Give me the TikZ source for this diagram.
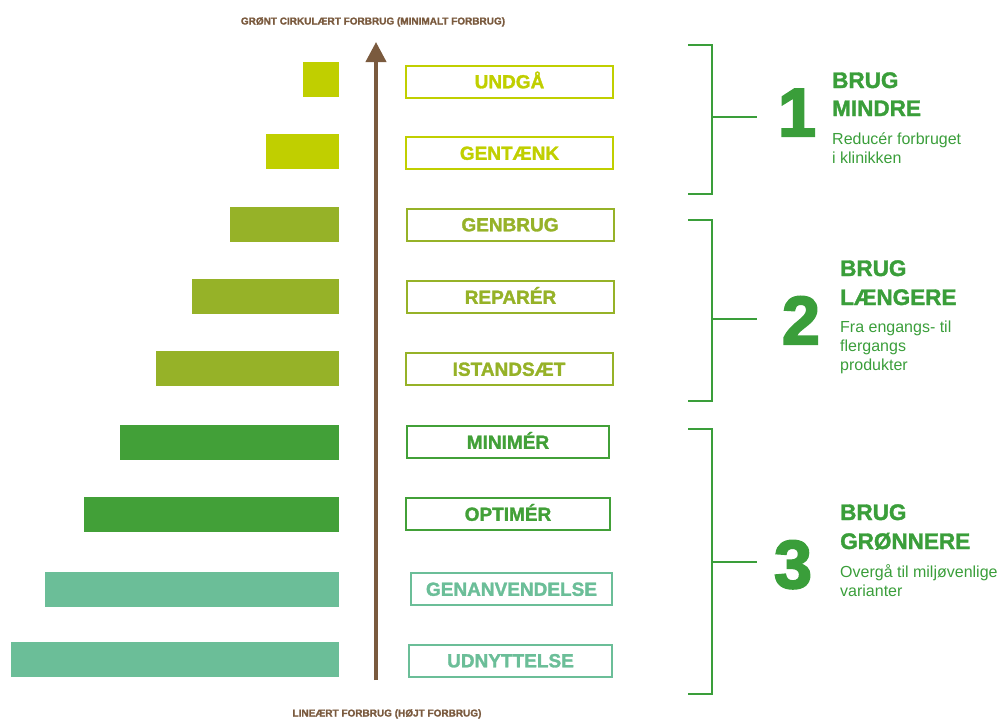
\documentclass[tikz,border=0pt]{standalone}
\usepackage{fontspec}
\setmainfont{Liberation Sans}
\newfontfamily\heavyfont{Liberation Sans Bold}[FakeBold=1.6]
\newfontfamily\numfont{Liberation Sans Bold}[FakeBold=3]
\usetikzlibrary{arrows.meta}
\definecolor{cLime}{RGB}{192,207,0}
\definecolor{cOlive}{RGB}{150,178,40}
\definecolor{cGreen}{RGB}{66,160,56}
\definecolor{cTeal}{RGB}{107,190,152}
\definecolor{cText}{RGB}{58,158,58}
\definecolor{cBrown}{RGB}{122,90,62}
\tikzset{
  bar/.style={rectangle, inner sep=0pt, outer sep=0pt, anchor=east, minimum height=35},
  lbl/.style={rectangle, draw=#1, text=#1, line width=2pt, inner sep=0pt,
    minimum width=207, minimum height=32, text height=13.6pt, text depth=0pt,
    font=\heavyfont\fontsize{19}{19}\selectfont},
  brk/.style={draw=cText, line width=1.3pt},
  bignum/.style={anchor=base, text=cText, inner sep=0pt, font=\numfont\fontsize{68}{68}\selectfont},
  head/.style={anchor=base west, text=cText, inner sep=0pt, font=\heavyfont\fontsize{22.5}{22.5}\selectfont},
  sub/.style={anchor=base west, text=cText, inner sep=0pt, font=\fontsize{16}{16}\selectfont},
  axlbl/.style={anchor=base, text=cBrown, inner sep=0pt, font=\heavyfont\fontsize{10}{10}\selectfont}
}
\begin{document}
\begin{tikzpicture}[x=1pt,y=-1pt]
\useasboundingbox (0,0) rectangle (998,718);

% bars
\node[bar, fill=cLime,  minimum width=36]  (b1) at (339,79.5) {};
\node[bar, fill=cLime,  minimum width=73]  (b2) at (339,151.5) {};
\node[bar, fill=cOlive, minimum width=109] (b3) at (339,224) {};
\node[bar, fill=cOlive, minimum width=147] (b4) at (339,296.5) {};
\node[bar, fill=cOlive, minimum width=183] (b5) at (339,368.5) {};
\node[bar, fill=cGreen, minimum width=219] (b6) at (339,442) {};
\node[bar, fill=cGreen, minimum width=255] (b7) at (339,514) {};
\node[bar, fill=cTeal,  minimum width=294] (b8) at (339,589) {};
\node[bar, fill=cTeal,  minimum width=328] (b9) at (339,659) {};

% labelled boxes
\node[lbl=cLime]  (l1) at (509.5,81.5) {UNDGÅ};
\node[lbl=cLime]  (l2) at (509.5,153) {GENTÆNK};
\node[lbl=cOlive] (l3) at (510,224.5) {GENBRUG};
\node[lbl=cOlive] (l4) at (510.5,297) {REPARÉR};
\node[lbl=cOlive] (l5) at (509,369) {ISTANDSÆT};
\node[lbl=cGreen, minimum width=202] (l6) at (508,442) {MINIMÉR};
\node[lbl=cGreen, minimum width=204] (l7) at (508,514) {OPTIMÉR};
\node[lbl=cTeal, minimum width=201]  (l8) at (511.5,589) {GENANVENDELSE};
\node[lbl=cTeal, minimum width=203]  (l9) at (510.5,660.5) {UDNYTTELSE};

% axis
\coordinate (axbot) at (376,680);
\coordinate (axtop) at (376,42);
\draw[cBrown, line width=4pt, -{Triangle[width=20pt,length=20pt]}] (axbot) -- (axtop);
\node[axlbl] (toplbl) at (373,24.5) {GRØNT CIRKULÆRT FORBRUG (MINIMALT FORBRUG)};
\node[axlbl] (botlbl) at (387,716.5) {LINEÆRT FORBRUG (HØJT FORBRUG)};

% brackets
\draw[brk] (688,45) -- (712,45) -- (712,194) -- (688,194);
\draw[brk] (712,117) -- (757,117);
\draw[brk] (688,220) -- (712,220) -- (712,401) -- (688,401);
\draw[brk] (712,319) -- (757,319);
\draw[brk] (688,429) -- (712,429) -- (712,694) -- (688,694);
\draw[brk] (712,562) -- (757,562);

% group 1
\node[bignum] (n1) at (797,136) {1};
\node[head] (h1a) at (832,88) {BRUG};
\node[head] (h1b) at (832,116) {MINDRE};
\node[sub] (s1a) at (832,144) {Reducér forbruget};
\node[sub] (s1b) at (832,163) {i klinikken};

% group 2
\node[bignum] (n2) at (801,344) {2};
\node[head] (h2a) at (840,276) {BRUG};
\node[head] (h2b) at (840,305) {LÆNGERE};
\node[sub] (s2a) at (840,332) {Fra engangs- til};
\node[sub] (s2b) at (840,351) {flergangs};
\node[sub] (s2c) at (840,370) {produkter};

% group 3
\node[bignum] (n3) at (793,588) {3};
\node[head] (h3a) at (840,520) {BRUG};
\node[head] (h3b) at (840,549) {GRØNNERE};
\node[sub] (s3a) at (840,577) {Overgå til miljøvenlige};
\node[sub] (s3b) at (840,596) {varianter};
\end{tikzpicture}
\end{document}
